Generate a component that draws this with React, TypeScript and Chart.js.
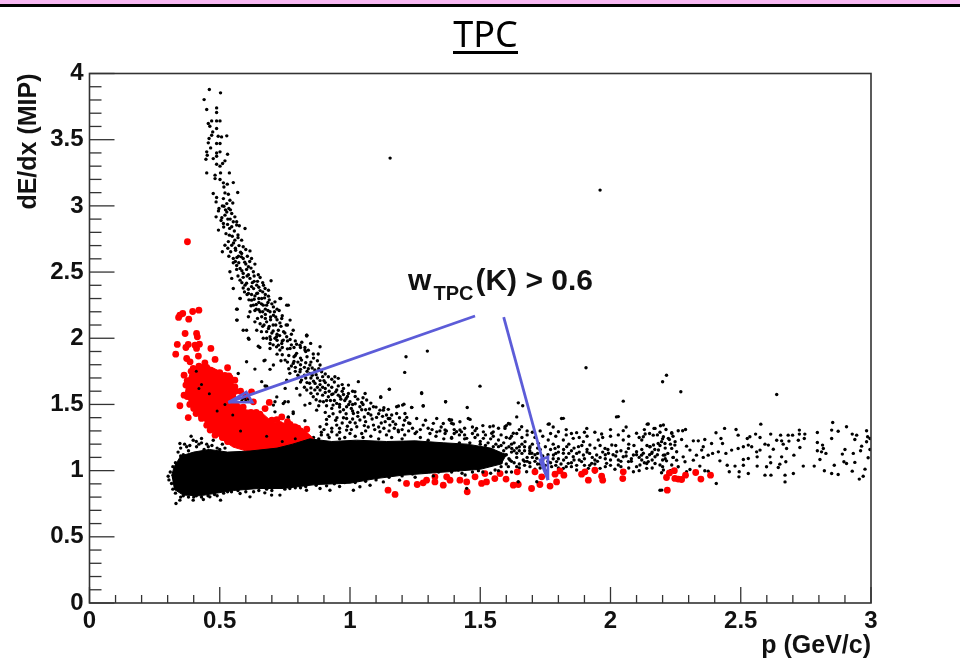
import React, { useEffect, useRef } from "react";
import { Chart, registerables } from "chart.js";

Chart.register(...registerables);

type Pair = [number, number];

const xMajor = [0, 0.5, 1, 1.5, 2, 2.5, 3];
const yMajor = [0, 0.5, 1, 1.5, 2, 2.5, 3, 3.5, 4];
const xMinor = [0.1,0.2,0.3,0.4,0.6,0.7,0.8,0.9,1.1,1.2,1.3,1.4,1.6,1.7,1.8,1.9,2.1,2.2,2.3,2.4,2.6,2.7,2.8,2.9];
const yMinor = [0.1,0.2,0.3,0.4,0.6,0.7,0.8,0.9,1.1,1.2,1.3,1.4,1.6,1.7,1.8,1.9,2.1,2.2,2.3,2.4,2.6,2.7,2.8,2.9,3.1,3.2,3.3,3.4,3.6,3.7,3.8,3.9];

const curveTop: Pair[] = [
[.46,3.879],[.503,3.854],[.44,3.803],[.45,3.728],[.488,3.74],[.488,3.705],[.469,3.642],[.488,3.642],[.501,3.642],[.456,3.622],[.462,3.602],[.488,3.584],[.473,3.559],[.469,3.534],[.494,3.526],[.507,3.521],[.527,3.529],[.459,3.509],[.456,3.476],[.488,3.471],[.501,3.471],[.465,3.438],[.45,3.408],[.488,3.4],[.501,3.408],[.53,3.39],[.452,3.383],[.447,3.352],[.488,3.375],[.475,3.357],[.52,3.34],[.511,3.32],[.488,3.315],[.501,3.3],[.45,3.249],[.482,3.232],[.503,3.249],[.537,3.249],[.482,3.206],[.501,3.199],[.514,3.174],[.552,3.176],[.529,3.164],[.516,3.143],[.475,3.093],[.52,3.098],[.533,3.088],[.569,3.101],[.488,3.063],[.514,3.055],[.539,3.043],[.486,3.03],[.527,3.017],[.55,3.022],[.516,2.997],[.495,2.962],[.527,2.954],[.546,2.942],[.558,2.917],[.486,2.917],[.51,3.0],[.535,2.98],[.52,2.93],[.505,2.89],[.54,2.9],[.565,2.88],[.53,2.86],[.575,2.85],
[.495,2.817],[.514,2.867],[.546,2.842],[.565,2.855],[.597,2.829],[.537,2.779],[.558,2.741],[.584,2.741],[.52,2.703],[.546,2.703],[.59,2.691],[.616,2.66],[.51,2.653],[.542,2.653],[.584,2.64],[.552,2.603],[.59,2.603],[.622,2.603],[.552,2.57],[.578,2.527],[.61,2.54],[.635,2.56],[.539,2.502],[.59,2.49],[.629,2.502],[.546,2.452],[.578,2.439],[.616,2.452],[.655,2.459],[.697,2.434],[.552,2.376],[.597,2.401],[.642,2.401],[.674,2.376],[.61,2.338],[.642,2.338],[.687,2.363],[.578,2.3],[.622,2.288],[.661,2.3],[.687,2.318],[.734,2.3],[.712,2.275],[.629,2.25],[.667,2.25],[.763,2.25],[.706,2.237],[.565,2.22],[.616,2.2],[.655,2.2],[.693,2.2],[.61,2.162],[.661,2.162],[.706,2.174],[.738,2.149],[.565,2.137],[.635,2.124],[.68,2.124],[.731,2.116],[.77,2.137],[.59,2.061],[.642,2.061],[.687,2.074],[.725,2.061],[.782,2.061],[.61,2.0],[.667,2.0],[.712,2.0],[.757,2.011],[.834,2.023],[.693,1.96],[.738,1.96],[.795,1.955],[.648,1.94],[.718,1.935],[.827,1.93],
[.57,2.78],[.56,2.68],[.572,2.62],[.60,2.56],[.565,2.55],[.605,2.47],[.632,2.43],[.665,2.42],[.622,2.39],[.655,2.36],[.595,2.35],[.635,2.32],[.675,2.33],[.65,2.27],[.685,2.27],[.64,2.22],[.675,2.22],[.72,2.22],[.695,2.16],[.675,2.18],[.72,2.14],[.755,2.1],[.665,2.09],[.705,2.1],[.745,2.05],[.70,2.04],[.76,1.98],[.73,2.02],[.775,1.95],
[.603,2.061],[.612,1.993],[.567,2.137],[.567,2.22],[.654,1.93],[.693,2.011],[.725,1.948],[.808,1.948],[.84,1.91],[.834,2.023],[.757,2.25],[.731,2.3],[.578,2.3],[.603,1.822],[.635,1.767],[.674,1.835],[.571,1.734],[.68,1.638],[.719,1.557],[.75,1.52],[.706,1.495],[.744,1.507],[.782,1.444],[.763,1.406],[.725,1.394],[.712,1.444]
];

const curveDense: Pair[] = [
[.497,2.98],[.522,2.97],[.541,2.97],[.508,2.91],[.531,2.90],[.552,2.88],[.515,2.84],[.538,2.83],[.556,2.81],[.524,2.79],[.548,2.77],[.57,2.76],[.533,2.73],[.553,2.72],[.574,2.70],[.531,2.68],[.561,2.665],[.58,2.65],[.6,2.67],[.535,2.62],[.566,2.61],[.583,2.615],[.606,2.62],[.56,2.58],[.573,2.57],[.596,2.575],[.615,2.58],[.565,2.52],[.585,2.51],[.603,2.52],[.62,2.53],[.57,2.47],[.59,2.46],[.61,2.48],[.632,2.47],[.648,2.48],[.585,2.42],[.603,2.415],[.625,2.42],[.645,2.43],[.59,2.38],[.61,2.37],[.63,2.375],[.65,2.385],[.668,2.4],[.605,2.33],[.622,2.33],[.645,2.34],[.665,2.35],[.612,2.29],[.632,2.295],[.65,2.3],[.672,2.305],[.69,2.29],[.62,2.245],[.64,2.255],[.66,2.26],[.68,2.25],[.70,2.26],[.635,2.21],[.65,2.215],[.665,2.2],[.685,2.21],[.71,2.2],[.728,2.21],[.645,2.15],[.675,2.15],[.695,2.14],[.715,2.16],[.74,2.17],[.655,2.11],[.67,2.10],[.69,2.09],[.715,2.10],[.735,2.09],[.76,2.1],[.66,2.05],[.68,2.05],[.705,2.055],[.72,2.03],[.75,2.04],[.775,2.03],[.68,2.0],[.695,1.99],[.72,1.985],[.74,1.98],[.77,1.99],[.79,1.98],[.815,1.97],[.705,1.95],[.74,1.93],[.76,1.92],[.785,1.93],[.81,1.93],[.83,1.90],[.72,1.88],[.74,1.875],[.765,1.87],[.785,1.86],[.81,1.85],[.835,1.86],[.86,1.85],[.735,1.83],[.76,1.82],[.785,1.825],[.80,1.82],[.83,1.815],[.85,1.82],[.875,1.83],[.765,1.77],[.79,1.78],[.81,1.765],[.835,1.75],[.855,1.775],[.88,1.77],[.905,1.73],[.80,1.72],[.825,1.72],[.85,1.70],[.87,1.725],[.895,1.71],[.93,1.69],[.81,1.67],[.835,1.665],[.86,1.675],[.885,1.68],[.905,1.665],[.94,1.67],[.97,1.65],[.825,1.63],[.85,1.625],[.875,1.63],[.895,1.63],[.92,1.60],[.945,1.595],[.975,1.62],[.85,1.585],[.875,1.58],[.895,1.57],[.93,1.575],[.955,1.57],[.975,1.575],[1.01,1.6],[.87,1.535],[.885,1.525],[.91,1.53],[.94,1.53],[.965,1.54],[.985,1.545],[1.02,1.56],[1.05,1.55],[.88,1.49],[.91,1.49],[.935,1.495],[.96,1.48],[.995,1.50],[1.02,1.505],[1.045,1.515],[1.08,1.51],[.905,1.44],[.935,1.43],[.985,1.43],[1.01,1.45],[1.045,1.46],[1.075,1.465],[1.10,1.48],[1.13,1.475],[.92,1.41],[.945,1.38],[.975,1.40],[1.0,1.365],[1.03,1.41],[1.055,1.405],[1.085,1.39],[1.125,1.41],[1.16,1.42],[.91,1.35],[.93,1.32],[.96,1.32],[.99,1.335],[1.02,1.36],[1.055,1.34],[1.11,1.33],[1.135,1.37],[1.175,1.35],[1.21,1.38],[.89,1.29],[.915,1.27],[.96,1.29],[1.005,1.31],[1.06,1.30],[1.095,1.31],[1.15,1.30],[1.2,1.31],[1.225,1.30],[1.27,1.31],[1.315,1.31],[1.345,1.30],[1.40,1.31],[1.44,1.32]
];

const curveMiddle: Pair[] = [
[.834,2.017],[.849,1.961],[.885,1.936],[.859,1.881],[.878,1.881],[.827,1.911],[.693,1.923],[.718,2.012],[.744,1.986],[.731,1.911],[.77,1.923],[.795,1.886],[.751,1.835],[.782,1.81],[.814,1.835],[.846,1.798],[.885,1.798],[.706,1.798],[.67,1.83],[.693,1.765],[.769,1.735],[.808,1.747],[.846,1.735],[.891,1.747],[.917,1.709],[.942,1.709],[.955,1.697],[.757,1.684],[.814,1.684],[.866,1.659],[.917,1.646],[.661,1.672],[.674,1.639],[.751,1.621],[.795,1.621],[.834,1.609],[.885,1.609],[.949,1.609],[.994,1.646],[1.032,1.672],[1.019,1.596],[1.058,1.583],[1.151,1.614],[.808,1.571],[.859,1.558],[.917,1.558],[.962,1.558],[.994,1.583],[.712,1.52],[.763,1.52],[.846,1.508],[.898,1.52],[.949,1.508],[1.0,1.52],[1.064,1.533],[1.118,1.553],[1.275,1.588],[.827,1.495],[.93,1.47],[.987,1.483],[1.038,1.483],[1.09,1.483],[1.147,1.463],[1.186,1.488],[1.202,1.495],[1.237,1.478],[1.281,1.488],[1.367,1.52],[.782,1.432],[.872,1.457],[.962,1.445],[1.013,1.432],[1.07,1.432],[1.115,1.457],[1.179,1.432],[.763,1.402],[.827,1.377],[.91,1.387],[.987,1.394],[1.038,1.382],[1.102,1.402],[1.147,1.394],[1.218,1.402],[1.256,1.394],[1.333,1.394],[1.381,1.387],[.885,1.331],[.949,1.344],[1.026,1.331],[1.09,1.344],[1.153,1.344],[1.205,1.344],[1.281,1.344],[1.32,1.357],[1.39,1.357],[.93,1.294],[.987,1.306],[1.045,1.281],[1.115,1.294],[1.186,1.294],[1.25,1.281],[1.307,1.281],[1.365,1.281],[1.409,1.294],
[.79,1.87],[.81,1.80],[.825,1.78],[.775,1.79],[.79,1.75],[.84,1.77],[.865,1.76],[.83,1.70],[.855,1.72],[.875,1.70],[.90,1.68],[.845,1.66],[.885,1.65],[.905,1.62],[.93,1.63],[.865,1.61],[.905,1.59],[.935,1.58],[.955,1.64],[.97,1.60],[.98,1.53],[.925,1.53],[.96,1.50],[.99,1.56],[1.01,1.50],[1.03,1.54],[1.05,1.50],[.975,1.46],[1.005,1.47],[1.03,1.44],[1.06,1.46],[1.08,1.42],[1.11,1.43],[1.14,1.42],[.95,1.40],[.97,1.36],[1.01,1.39],[1.06,1.37],[1.07,1.33],[1.12,1.36],[1.165,1.37],[1.19,1.40],[1.13,1.32],[1.17,1.32],[1.225,1.36],[1.24,1.32],[1.29,1.38],[1.30,1.32],[1.35,1.33],[1.37,1.30],[1.0,1.28],[1.02,1.26],[1.08,1.26],[1.14,1.27],[1.16,1.25],[1.21,1.27],[1.27,1.25],[1.33,1.26],[1.39,1.25],[1.42,1.27],
[1.128,1.457],[1.211,1.432],[1.384,1.381],[1.422,1.369],[1.454,1.394],[1.608,1.356],[1.595,1.331],[1.537,1.331],[1.486,1.319],[1.358,1.356],[1.23,1.356],[1.153,1.394],[1.512,1.293],[1.55,1.293],[1.64,1.281],[1.428,1.293],[1.333,1.293],[1.256,1.293],[1.185,1.306]
];

const bandEdgeAbove: Pair[] = [
[.347,1.205],[.398,1.23],[.373,1.18],[.43,1.243],[.475,1.23],[.411,1.18],[.456,1.18],[.34,1.14],[.38,1.15],[.42,1.2],[.44,1.16],[.49,1.17],[.51,1.2],[.36,1.12],[.35,1.17],[.365,1.2],[.385,1.19],[.39,1.26],[.41,1.22],[.43,1.21],[.45,1.2],[.47,1.19],[.5,1.16],[.52,1.17],[.35,1.11],[.33,1.06],[.32,1.03],[.31,.99],
[.86,1.25],[.89,1.27],[.92,1.25],[.95,1.27],[.98,1.25],[.90,1.31],[.88,1.24],[.96,1.24],[1.05,1.25],[1.11,1.24],[1.2,1.24],[1.3,1.23],[1.36,1.24],[1.44,1.24],[1.48,1.25],[1.5,1.22],[1.54,1.24],[1.52,1.19],[1.56,1.2],[1.59,1.21],[1.62,1.2],[1.6,1.17],[1.64,1.17],[1.66,1.2],[1.67,1.15],[1.69,1.17],[1.71,1.12],[1.73,1.16],[1.74,1.11],[1.77,1.16],[1.79,1.13],[1.8,1.09],[1.83,1.1],[1.85,1.15],[1.87,1.13],[1.88,1.08],[1.91,1.16],[1.93,1.1],[1.95,1.07],[1.97,1.14],[1.98,1.09],[2.01,1.12],[2.03,1.08],[2.06,1.14],[2.08,1.07],[2.11,1.1],[2.13,1.06],[2.15,1.12],[2.17,1.16],[2.2,1.08],[2.22,1.13]
];

const bandRight: Pair[] = [
[1.39,1.382],[1.461,1.387],[1.397,1.352],[1.55,1.337],[1.614,1.352],[1.659,1.332],[1.765,1.352],[1.819,1.395],[2.03,1.408],[2.145,1.352],[2.203,1.345],[2.235,1.282],[1.365,1.307],[1.422,1.307],[1.48,1.302],[1.544,1.282],[1.595,1.319],[1.627,1.282],[1.71,1.251],[1.8,1.294],[1.87,1.287],[1.909,1.319],[1.966,1.277],[2.049,1.302],[2.1,1.282],[2.133,1.277],[2.171,1.319],[2.222,1.244],[1.39,1.244],[1.448,1.244],[1.512,1.244],[1.57,1.231],[1.614,1.244],[1.672,1.219],[1.761,1.231],[1.819,1.231],[1.857,1.244],[1.896,1.219],[1.953,1.231],[2.005,1.194],[2.049,1.231],[2.12,1.231],[2.165,1.194],[2.196,1.219],[2.248,1.219],[1.57,1.181],[1.621,1.168],[1.691,1.181],[1.723,1.206],[1.787,1.168],[1.832,1.181],[1.877,1.181],[1.921,1.194],[1.979,1.168],[2.024,1.143],[2.069,1.168],[2.1,1.143],[2.152,1.181],[2.184,1.156],[2.235,1.168],[1.595,1.118],[1.64,1.131],[1.698,1.131],[1.781,1.118],[1.819,1.131],[1.857,1.105],[1.896,1.118],[1.947,1.118],[1.992,1.131],[2.049,1.105],[2.088,1.118],[2.126,1.131],[2.171,1.105],[2.209,1.118],[2.254,1.143],[1.614,1.08],[1.665,1.08],[1.717,1.093],[1.793,1.068],[1.838,1.055],[1.889,1.068],[1.928,1.055],[1.985,1.055],[2.03,1.042],[2.069,1.068],[2.113,1.042],[2.145,1.068],[2.19,1.042],[2.235,1.042],[1.64,1.03],[1.691,1.03],[1.774,1.03],[1.819,1.017],[1.87,1.005],[1.915,1.017],[1.96,1.017],[2.017,1.01],[2.088,.992],[2.1,1.03],[2.139,1.017],[2.203,1.005],[2.248,1.005],[1.608,1.03],[1.678,.992],[1.442,.967],[1.416,1.005],[1.493,1.0],[1.557,1.005],[1.68,1.07],[1.72,1.05],[1.76,1.07],[1.75,1.0],[1.8,1.02],[1.85,1.03],[1.94,.99],[1.73,1.02],[1.65,1.02],[1.58,1.06],[1.6,.99],[1.54,.98],
[1.42,1.21],[1.46,1.21],[1.5,1.2],[1.53,1.21],[1.55,1.18],[1.58,1.19],[1.61,1.18],[1.63,1.21],[1.65,1.18],[1.67,1.18],[1.69,1.15],[1.7,1.2],[1.72,1.17],[1.75,1.18],[1.78,1.2],[1.8,1.18],[1.82,1.16],[1.84,1.2],[1.86,1.17],[1.89,1.19],[1.91,1.14],[1.94,1.17],[1.96,1.19],[1.99,1.16],[2.02,1.19],[2.04,1.15],[2.07,1.2],[2.09,1.19],[2.12,1.16],[2.14,1.19],[2.16,1.14],[2.19,1.19],[2.21,1.17],[2.23,1.2],
[1.62,1.14],[1.64,1.1],[1.66,1.13],[1.68,1.1],[1.7,1.1],[1.72,1.13],[1.74,1.08],[1.76,1.12],[1.78,1.09],[1.8,1.14],[1.82,1.08],[1.84,1.13],[1.86,1.08],[1.88,1.14],[1.9,1.09],[1.92,1.13],[1.94,1.08],[1.96,1.1],[1.98,1.12],[2.0,1.08],[2.02,1.11],[2.04,1.07],[2.06,1.11],[2.08,1.09],[2.1,1.12],[2.12,1.08],[2.14,1.1],[2.16,1.08],[2.18,1.12],[2.21,1.09],[2.24,1.1],
[1.6,1.05],[1.63,1.06],[1.65,1.05],[1.67,1.04],[1.69,1.06],[1.71,1.01],[1.73,1.05],[1.75,1.04],[1.77,1.06],[1.79,1.04],[1.81,1.05],[1.83,1.03],[1.85,1.06],[1.87,1.04],[1.9,1.04],[1.92,1.04],[1.94,1.05],[1.98,1.03],[2.0,1.04],[2.04,1.03],[2.07,1.02],[2.11,1.0],[2.16,1.02],[2.2,1.03],[2.23,1.0],
[1.4,1.28],[1.44,1.27],[1.47,1.28],[1.49,1.27],[1.52,1.27],[1.55,1.26],[1.58,1.27],[1.6,1.25],[1.62,1.26],[1.66,1.25],[1.68,1.27],[1.7,1.29],[1.74,1.26],[1.77,1.28],[1.79,1.26],[1.83,1.27],[1.85,1.28],[1.88,1.25],[1.91,1.26],[1.94,1.29],[1.97,1.25],[2.0,1.26],[2.03,1.27],[2.07,1.26],[2.11,1.25],[2.15,1.28],[2.18,1.27],[2.2,1.24],[2.24,1.26],
[1.47,1.33],[1.51,1.34],[1.57,1.32],[1.6,1.34],[1.65,1.31],[1.68,1.3],[1.73,1.3],[1.78,1.33],[1.83,1.31],[1.9,1.29],[2.0,1.31],[2.06,1.33],[2.13,1.31],[2.19,1.29],
[1.52,1.16],[1.55,1.14],[1.57,1.1],[1.59,1.15],[1.61,1.09],[1.63,1.15],[1.6,1.12],[1.62,1.07],[1.58,1.03],[1.56,1.06],[1.54,1.04],[1.5,1.03],[1.47,1.02],[1.44,1.01],[1.41,1.01],[1.65,1.15],[1.67,1.07],[1.69,1.13],[1.71,1.07]
];

const bandEdgeBelow: Pair[] = [
[.332,.752],[.302,.958],[.315,.903],[.398,.777],[.503,.777],[.347,.777],[.462,.802],[.437,.782],[.616,.802],[.578,.827],[.731,.815],[.699,.815],[.673,.832],[.769,.865],[.833,.852],[.923,.852],[.885,.865],[1.013,.852],[1.038,.878],[1.077,.89],[1.128,.915],[1.19,.928],[1.448,.866],[2.197,.853],[1.717,.916],[1.646,.916],[.36,.81],[.41,.81],[.48,.82],[.53,.84],[.63,.84],[.68,.86],[.81,.87],[.96,.88],[1.1,.93],[1.25,.95],[1.32,.96],
[.305,.93],[.32,.86],[.33,.83],[.35,.8],[.38,.80],[.40,.80],[.43,.8],[.455,.81],[.49,.81],[.515,.83],[.545,.84],[.57,.85],[.6,.84],[.65,.85],[.7,.85],[.75,.86],[.79,.87],[.83,.88],[.87,.89],[.91,.885],[.94,.9],[.98,.91],[1.02,.91],[1.06,.92],[1.1,.945],[1.15,.95],[1.2,.96],[1.24,.975],[1.28,.99],[1.34,.99],[1.39,.99],[1.43,.98],[1.47,.99],[1.51,.99],[1.57,1.0],[1.62,.99]
];

const tail: Pair[] = [
[2.141,1.351],[2.167,1.319],[2.192,1.339],[2.213,1.311],[2.235,1.286],[2.26,1.301],[2.277,1.301],[2.288,1.311],[2.405,1.286],[2.438,1.319],[2.482,1.311],[2.577,1.351],[2.49,1.268],[2.557,1.276],[2.574,1.25],[2.615,1.276],[2.535,1.256],[2.525,1.243],[2.653,1.268],[2.682,1.268],[2.699,1.268],[2.725,1.306],[2.746,1.276],[2.725,1.276],[2.794,1.288],[2.853,1.364],[2.849,1.306],[2.874,1.298],[2.906,1.331],[2.928,1.276],[2.945,1.268],[2.983,1.301],[2.987,1.256],[2.849,1.243],[2.938,1.235],[2.996,1.243],[2.983,1.218],[2.638,1.23],[2.657,1.225],[2.685,1.223],[2.721,1.23],[2.744,1.243],[2.794,1.213],[2.814,1.193],[2.964,1.185],[2.996,1.16],[2.9,1.16],[2.96,1.15],[2.932,1.13],[2.89,1.125],[2.989,1.097],[2.804,1.084],[2.827,1.13],[2.794,1.15],[2.81,1.142],[2.817,1.167],[2.727,1.175],[2.663,1.2],[2.676,1.167],[2.704,1.117],[2.657,1.104],[2.625,1.162],[2.606,1.193],[2.593,1.2],[2.561,1.142],[2.574,1.155],[2.542,1.18],[2.529,1.193],[2.51,1.18],[2.49,1.167],[2.465,1.155],[2.443,1.13],[2.43,1.205],[2.414,1.142],[2.392,1.13],[2.375,1.117],[2.356,1.18],[2.362,1.235],[2.337,1.225],[2.318,1.225],[2.388,1.205],[2.424,1.243],[2.51,1.084],[2.529,1.092],[2.563,1.104],[2.612,1.104],[2.615,1.059],[2.644,1.024],[2.599,1.029],[2.563,1.034],[2.51,1.041],[2.478,1.034],[2.448,1.041],[2.42,1.074],[2.74,1.034],[2.782,1.034],[2.859,1.041],[2.896,1.067],[2.906,1.054],[2.938,1.062],[2.673,1.067],[2.65,1.049],[2.456,.991],[2.494,.991],[2.529,.978],[2.593,.966],[2.616,.966],[2.67,.966],[2.702,.978],[2.821,.999],[2.849,.978],[2.874,.971],[2.928,.996],[2.977,1.011],[2.97,.958],[2.955,.936],[2.67,.915],[2.493,.953],[2.406,.903],[2.19,.852],[2.126,1.256],[2.164,1.268],[2.203,1.256],[2.226,1.235],[2.273,1.235],[2.151,1.18],[2.183,1.205],[2.209,1.205],[2.247,1.193],[2.292,1.185],[2.305,1.155],[2.35,1.155],[2.119,1.117],[2.158,1.13],[2.203,1.117],[2.241,1.1],[2.279,1.104],[2.33,1.117],[2.139,1.054],[2.171,1.054],[2.215,1.074],[2.254,1.079],[2.286,1.067],[2.318,1.079],[2.343,1.034],[2.305,1.009],[2.362,.999],[2.375,.996],[2.196,.984],[2.26,1.029],[2.292,.991],[2.356,1.1]
];

const outliers: Pair[] = [
[1.154,3.361],[1.96,3.119],[1.906,1.777],[2.215,1.721],[2.2,1.671],[2.049,1.525],[2.023,1.406],[1.215,1.86],[1.297,1.903],[1.21,1.742],[1.151,1.616],[1.499,1.638],[1.275,1.583],[1.367,1.52],[1.281,1.49],[1.237,1.477],[1.45,1.477],[1.646,1.512],[1.663,1.49],[1.812,1.394],[1.761,1.351],[1.64,1.406],[1.118,1.558],[1.207,1.502],[1.179,1.482],[2.27,1.596],[2.638,1.575]
];

const bandCore: Pair[] = [
[.315,.96],[.325,1.03],[.35,1.11],[.4,1.14],[.46,1.16],[.53,1.14],[.616,1.148],[.72,1.17],[.78,1.2],[.846,1.24],[.93,1.22],[1.025,1.23],[1.14,1.22],[1.25,1.225],[1.36,1.21],[1.45,1.2],[1.54,1.17],[1.6,1.12],[1.58,1.05],[1.5,1.01],[1.4,.995],[1.3,.98],[1.2,.965],[1.1,.94],[1.0,.905],[.87,.895],[.744,.865],[.65,.865],[.552,.85],[.424,.81],[.36,.815],[.324,.86]
];

const kaonCore: Pair[] = [
[.39,1.78],[.47,1.78],[.53,1.72],[.56,1.63],[.56,1.53],[.6,1.46],[.66,1.44],[.70,1.37],[.79,1.35],[.84,1.28],[.87,1.22],[.781,1.178],[.72,1.14],[.616,1.14],[.551,1.178],[.512,1.231],[.474,1.31],[.436,1.42],[.385,1.5],[.37,1.63]
];

const kaonUpper: Pair[] = [
[.376,2.729],[.347,2.175],[.358,2.187],[.342,2.157],[.396,2.202],[.42,2.212],[.381,2.144],[.367,2.036],[.411,2.036],[.414,2.011],[.337,1.953],[.379,1.953],[.37,1.93],[.405,1.948],[.422,1.955],[.411,1.923],[.466,1.923],[.331,1.88],[.373,1.847],[.418,1.865],[.386,1.822],[.482,1.84],[.443,1.814],[.53,1.777],[.398,1.772],[.363,1.721],[.433,1.746],[.475,1.734],[.535,1.716],[.558,1.683],[.37,1.646],[.363,1.57],[.558,1.633],[.622,1.595],[.398,1.583],[.347,1.49],[.409,1.431],[.379,1.401],[.43,1.394],[.45,1.343],[.463,1.306],[.482,1.268],[.69,1.515],[.629,1.52],[.674,1.469],[.654,1.427],[.7,1.381],[.719,1.386],[.738,1.406],[.789,1.331],[.834,1.313],[.84,1.243],[.42,1.79],[.45,1.78],[.49,1.72],[.515,1.70],[.54,1.66],[.58,1.60],[.60,1.56],[.385,1.68],[.395,1.62],[.39,1.55],[.42,1.5],[.62,1.44],[.69,1.36],[.76,1.37],[.81,1.30],
[.39,1.75],[.43,1.78],[.46,1.76],[.5,1.74],[.52,1.72],[.54,1.7],[.56,1.6],[.53,1.63],[.375,1.68],[.38,1.6],[.375,1.56],[.385,1.5],[.4,1.47],[.42,1.45],[.43,1.41],[.45,1.39],[.46,1.35],[.47,1.31],[.49,1.28],[.51,1.25],[.53,1.22],[.41,1.69],[.44,1.7],[.47,1.68],[.5,1.65],[.53,1.55],[.55,1.5],[.57,1.46],[.6,1.43],[.59,1.48],[.64,1.44],[.67,1.38],[.7,1.34],[.73,1.35],[.77,1.35],[.8,1.32],[.82,1.28],[.83,1.24],[.85,1.22],[.86,1.2],[.88,1.2],[.75,1.32],[.72,1.3],[.66,1.35]
];

const kaonLower: Pair[] = [
[1.146,.852],[1.173,.82],[1.217,.903],[1.258,.895],[1.281,.908],[1.294,.928],[1.326,.953],[1.326,.915],[1.358,.89],[1.371,.953],[1.384,.928],[1.422,.928],[1.448,.915],[1.45,.84],[1.48,.953],[1.505,.903],[1.524,.915],[1.518,.978],[1.556,.94],[1.576,.978],[1.599,.936],[1.627,.89],[1.642,.991],[1.646,.895],[1.697,.865],[1.71,.991],[1.729,.895],[1.736,.953],[1.768,.883],[1.793,.915],[1.787,.973],[1.806,.998],[1.821,.966],[1.889,.973],[1.902,.991],[1.915,.928],[1.94,1.003],[1.97,.928],[1.966,.958],[2.049,.991],[2.047,.94],[2.218,.852],[2.215,.948],[2.226,.983],[2.245,1.0],[2.247,.941],[2.26,.936],[2.273,.933],[2.288,.966],[2.327,.986],[2.347,.936],[2.384,.966]
];

const specksOnKaon: Pair[] = [
[.597,1.548],[.61,1.54],[.585,1.53],[.62,1.525],[.6,1.53],[.59,1.545],[.43,1.65],[.46,1.58],[.41,1.75],[.52,1.5],[.55,1.42],[.49,1.45],[.42,1.62],[.58,1.30],[.68,1.26],[.74,1.22],[.79,1.24]
];

const arrowShaftLeft: Pair[] = [[1.48, 2.168], [.533, 1.516]];
const arrowHeadLeft: Pair[] = [[.533, 1.516], [.602, 1.593], [.625, 1.516], [.533, 1.516]];
const arrowShaftRight: Pair[] = [[1.59, 2.16], [1.76, .929]];
const arrowHeadRight: Pair[] = [[1.76, .929], [1.729, 1.08], [1.76, 1.103], [1.76, .929]];

const labelMain = "w";
const labelSub = "TPC";
const labelRest = "(K) > 0.6";
const titleText = "TPC";
const xTitle = "p (GeV/c)";
const yTitle = "dE/dx (MIP)";

const BOLD = '"Liberation Sans", Arial, sans-serif';
const INK = "#333333";
const ARROW = "#5c5cd8";
const DOT = 1.7;

const toXY = (list: Pair[]) => list.map(([x, y]) => ({ x, y }));

const dots = (data: Pair[], color: string, radius: number, order: number) => ({
  data: toXY(data), showLine: false, pointRadius: radius, pointHoverRadius: radius,
  pointBackgroundColor: color, pointBorderWidth: 0, order,
});
const shape = (data: Pair[], color: string, order: number) => ({
  data: toXY(data), showLine: true, fill: "shape", backgroundColor: color, borderColor: color,
  borderWidth: 1, pointRadius: 0, order, tension: 0,
});
const stroke = (data: Pair[], width: number, order: number) => ({
  data: toXY(data), showLine: true, fill: false, borderColor: ARROW, borderWidth: width,
  pointRadius: 0, order, tension: 0,
});

const framePlugin = {
  id: "frame",
  afterDraw(chart: any) {
    const { ctx, chartArea: a, scales } = chart;
    const sx = scales.x, sy = scales.y;
    ctx.save();
    ctx.strokeStyle = INK;
    ctx.lineWidth = 1.6;
    ctx.strokeRect(a.left, a.top, a.right - a.left, a.bottom - a.top);
    ctx.lineWidth = 1.3;
    const tx = (v: number, len: number) => {
      const p = sx.getPixelForValue(v);
      ctx.beginPath(); ctx.moveTo(p, a.bottom); ctx.lineTo(p, a.bottom - len); ctx.stroke();
    };
    const ty = (v: number, len: number) => {
      const p = sy.getPixelForValue(v);
      ctx.beginPath(); ctx.moveTo(a.left, p); ctx.lineTo(a.left + len, p); ctx.stroke();
    };
    xMajor.forEach((v) => tx(v, 16));
    xMinor.forEach((v) => tx(v, 8));
    yMajor.forEach((v) => ty(v, 25));
    yMinor.forEach((v) => ty(v, 12));

    ctx.fillStyle = "#111111";
    ctx.textBaseline = "alphabetic";
    ctx.textAlign = "left";
    let x = sx.getPixelForValue(1.223);
    const y = sy.getPixelForValue(2.364);
    ctx.font = `bold 30px ${BOLD}`;
    ctx.fillText(labelMain, x, y);
    x += ctx.measureText(labelMain).width + 2;
    ctx.font = `bold 20px ${BOLD}`;
    ctx.fillText(labelSub, x, y + 10);
    x += ctx.measureText(labelSub).width + 2;
    ctx.font = `bold 30px ${BOLD}`;
    ctx.fillText(labelRest, x, y);

    ctx.fillStyle = "#000000";
    ctx.textAlign = "center";
    ctx.font = '36px "Noto Sans", sans-serif';
    ctx.fillText(titleText, 485.5, 47);
    ctx.fillRect(453, 51, 65, 3);
    ctx.restore();
  },
};

export default function App() {
  const ref = useRef<HTMLCanvasElement | null>(null);
  useEffect(() => {
    if (!ref.current) return;
    const chart = new Chart(ref.current, {
      type: "scatter",
      plugins: [framePlugin],
      data: {
        datasets: [
          dots(curveTop, "#000000", DOT, 20),
          dots(curveDense, "#000000", DOT, 20),
          dots(curveMiddle, "#000000", DOT, 20),
          dots(outliers, "#000000", DOT, 20),
          dots(tail, "#000000", DOT, 20),
          dots(bandEdgeAbove, "#000000", DOT, 20),
          dots(bandRight, "#000000", DOT, 20),
          shape(kaonCore, "#ff0000", 15),
          dots(kaonUpper, "#ff0000", 3.4, 14),
          dots(kaonLower, "#ff0000", 3.4, 14),
          dots(specksOnKaon, "#000000", 1.5, 12),
          dots(bandEdgeBelow, "#000000", DOT, 10),
          shape(bandCore, "#000000", 9),
          stroke(arrowShaftLeft, 2.8, 3),
          stroke(arrowHeadLeft, 2.6, 2),
          stroke(arrowShaftRight, 2.8, 3),
          stroke(arrowHeadRight, 2.6, 2),
        ] as any,
      },
      options: {
        animation: false,
        responsive: false,
        layout: { padding: { top: 73.5, right: 89, left: 0, bottom: 0 } },
        plugins: { legend: { display: false }, tooltip: { enabled: false }, title: { display: false } },
        scales: {
          x: {
            type: "linear", min: 0, max: 3,
            afterFit: (s: any) => { s.height = 66; },
            grid: { display: false, drawTicks: false },
            border: { display: false },
            ticks: {
              stepSize: 0.5, autoSkip: false, maxRotation: 0, padding: 4, color: "#111111",
              font: { family: BOLD, weight: "bold", size: 24 },
              callback: (v: any) => String(v),
            },
            title: {
              display: true, text: xTitle, align: "end", color: "#111111",
              font: { family: BOLD, weight: "bold", size: 25 },
              padding: { top: 0, bottom: 8 },
            },
          },
          y: {
            type: "linear", min: 0, max: 4,
            afterFit: (s: any) => { s.width = 89.5; },
            grid: { display: false, drawTicks: false },
            border: { display: false },
            ticks: {
              stepSize: 0.5, autoSkip: false, padding: 6, color: "#111111",
              font: { family: BOLD, weight: "bold", size: 24 },
              callback: (v: any) => String(v),
            },
            title: {
              display: true, text: yTitle, align: "end", color: "#111111",
              font: { family: BOLD, weight: "bold", size: 25 },
              padding: { top: 14, bottom: 0 },
            },
          },
        },
      } as any,
    });
    return () => chart.destroy();
  }, []);

  return (
    <div style={{ position: "fixed", left: 0, top: 0, width: 960, height: 669, background: "#fff", overflow: "hidden" }}>
      <div style={{ position: "absolute", left: 0, top: 0, width: 960, height: 4, background: "#f7b8f2" }} />
      <div style={{ position: "absolute", left: 0, top: 4, width: 960, height: 3, background: "#000" }} />
      <canvas ref={ref} width={960} height={669} style={{ position: "absolute", left: 0, top: 0, display: "block", filter: "blur(0.4px)" }} />
    </div>
  );
}
